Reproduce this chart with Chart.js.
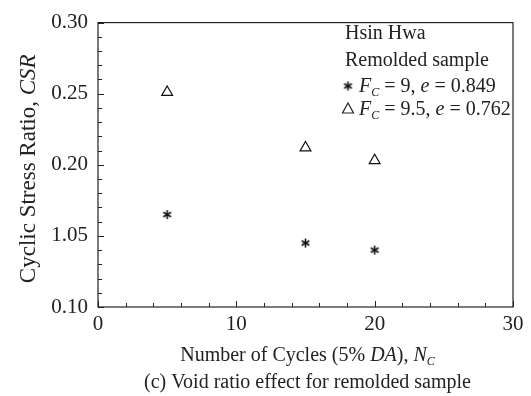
<!DOCTYPE html>
<html lang="en">
<head>
    <meta charset="UTF-8">
    <title>Void ratio effect for remolded sample</title>
    <script src="https://cdn.jsdelivr.net/npm/chart.js"></script>
    <style>
        body { margin: 0; background: #fff; }
        .wrap { width: 531px; height: 396px; position: relative; }
    </style>
</head>
<body>
    <div class="wrap"><canvas id="csrChart"></canvas></div>

    <script>
        // data
        const cycles = [5, 15, 20];
        const csrLoose = [0.165, 0.145, 0.140];   // Fc = 9, e = 0.849
        const csrDense = [0.251, 0.212, 0.203];   // Fc = 9.5, e = 0.762
        const xTicks = [0, 10, 20, 30];
        const yTicks = [0.10, 0.15, 0.20, 0.25, 0.30];
        const yTickLabels = ['0.10', '1.05', '0.20', '0.25', '0.30'];  // as printed

        const serif = '"Liberation Serif", "DejaVu Serif", serif';

        // six-armed asterisk marker
        function makeStar(r) {
            let c = document.createElement('canvas');
            c.width = c.height = 2 * r + 4;
            let g = c.getContext('2d');
            g.strokeStyle = '#111';
            g.lineWidth = 1.6;
            let m = r + 2;
            for (let a of [90, 30, 150]) {
                let t = a * Math.PI / 180;
                g.beginPath();
                g.moveTo(m - r * Math.cos(t), m - r * Math.sin(t));
                g.lineTo(m + r * Math.cos(t), m + r * Math.sin(t));
                g.stroke();
            }
            return c;
        }
        const starImg = makeStar(4.5);

        function drawRuns(ctx, runs, x, y) {
            ctx.textAlign = 'left';
            ctx.textBaseline = 'alphabetic';
            for (let r of runs) {
                ctx.font = r.f;
                ctx.fillText(r.t, x, y + (r.dy || 0));
                x += ctx.measureText(r.t).width;
            }
        }
        function runsWidth(ctx, runs) {
            let w = 0;
            for (let r of runs) { ctx.font = r.f; w += ctx.measureText(r.t).width; }
            return w;
        }

        const N = '20px ' + serif, I = 'italic 20px ' + serif, S = 'italic 12px ' + serif;

        const decor = {
            id: 'decor',
            afterDraw(chart) {
                const ctx = chart.ctx, a = chart.chartArea;
                const xs = chart.scales.x, ys = chart.scales.y;
                ctx.save();
                ctx.strokeStyle = '#222';
                ctx.lineWidth = 1.2;
                ctx.strokeRect(a.left, a.top, a.right - a.left, a.bottom - a.top);

                // inward ticks
                ctx.lineWidth = 1;
                ctx.beginPath();
                for (let v = 0; v <= 30; v += 2) {
                    let px = Math.round(xs.getPixelForValue(v)) + 0.5;
                    let len = v % 10 === 0 ? 6 : 4;
                    ctx.moveTo(px, a.bottom); ctx.lineTo(px, a.bottom - len);
                }
                for (let k = 10; k <= 30; k++) {
                    let py = Math.round(ys.getPixelForValue(k / 100)) + 0.5;
                    let len = k % 5 === 0 ? 6 : 4;
                    ctx.moveTo(a.left, py); ctx.lineTo(a.left + len, py);
                }
                ctx.stroke();

                ctx.fillStyle = '#222';
                // y title
                ctx.save();
                ctx.translate(27, (a.top + a.bottom) / 2 + 4);
                ctx.rotate(-Math.PI / 2);
                let yt = [{ t: 'Cyclic Stress Ratio, ', f: '23px ' + serif }, { t: 'CSR', f: 'italic 23px ' + serif }];
                drawRuns(ctx, yt, -runsWidth(ctx, yt) / 2, 8);
                ctx.restore();

                // x title
                let cx = (a.left + a.right) / 2 + 2;
                let xt = [
                    { t: 'Number of Cycles (5% ', f: N }, { t: 'DA', f: I }, { t: '), ', f: N },
                    { t: 'N', f: I }, { t: 'C', f: S, dy: 4 }
                ];
                drawRuns(ctx, xt, cx - runsWidth(ctx, xt) / 2, 361);
                let cap = [{ t: '(c) Void ratio effect for remolded sample', f: N }];
                drawRuns(ctx, cap, cx - runsWidth(ctx, cap) / 2, 388);

                // legend
                drawRuns(ctx, [{ t: 'Hsin Hwa', f: N }], 345, 39);
                drawRuns(ctx, [{ t: 'Remolded sample', f: N }], 345, 66);
                ctx.drawImage(starImg, 348 - starImg.width / 2, 86 - starImg.height / 2);
                drawRuns(ctx, [
                    { t: 'F', f: I }, { t: 'C', f: S, dy: 4 }, { t: ' = 9, ', f: N },
                    { t: 'e', f: I }, { t: ' = 0.849', f: N }
                ], 359, 92);
                ctx.lineWidth = 1.2;
                ctx.beginPath();
                ctx.moveTo(348, 103); ctx.lineTo(353.5, 113); ctx.lineTo(342.5, 113); ctx.closePath();
                ctx.stroke();
                drawRuns(ctx, [
                    { t: 'F', f: I }, { t: 'C', f: S, dy: 4 }, { t: ' = 9.5, ', f: N },
                    { t: 'e', f: I }, { t: ' = 0.762', f: N }
                ], 359, 115);
                ctx.restore();
            }
        };

        const ctx = document.getElementById('csrChart').getContext('2d');
        new Chart(ctx, {
            type: 'scatter',
            data: {
                datasets: [
                    {
                        label: 'Fc = 9, e = 0.849',
                        data: cycles.map((c, i) => ({ x: c, y: csrLoose[i] })),
                        pointStyle: starImg
                    },
                    {
                        label: 'Fc = 9.5, e = 0.762',
                        data: cycles.map((c, i) => ({ x: c, y: csrDense[i] })),
                        pointStyle: 'triangle',
                        pointRadius: 6.3,
                        borderColor: '#111',
                        backgroundColor: 'rgba(0,0,0,0)',
                        borderWidth: 1.2
                    }
                ]
            },
            options: {
                responsive: true,
                maintainAspectRatio: false,
                animation: false,
                layout: { padding: { top: 19, right: 18, left: 0, bottom: 0 } },
                plugins: { legend: { display: false }, tooltip: { enabled: false } },
                scales: {
                    x: {
                        min: 0, max: 30,
                        afterFit: s => { s.height = 89; },
                        afterBuildTicks: s => { s.ticks = xTicks.map(v => ({ value: v })); },
                        grid: { display: false, drawTicks: false },
                        border: { display: false },
                        ticks: { color: '#222', padding: 5, font: { family: serif, size: 21 }, maxRotation: 0 }
                    },
                    y: {
                        min: 0.1, max: 0.3,
                        afterFit: s => { s.width = 98; },
                        afterBuildTicks: s => { s.ticks = yTicks.map(v => ({ value: v })); },
                        grid: { display: false, drawTicks: false },
                        border: { display: false },
                        ticks: {
                            color: '#222', padding: 10, font: { family: serif, size: 21 },
                            callback: (v, i) => yTickLabels[i]
                        }
                    }
                }
            },
            plugins: [decor]
        });
    </script>
</body>
</html>
